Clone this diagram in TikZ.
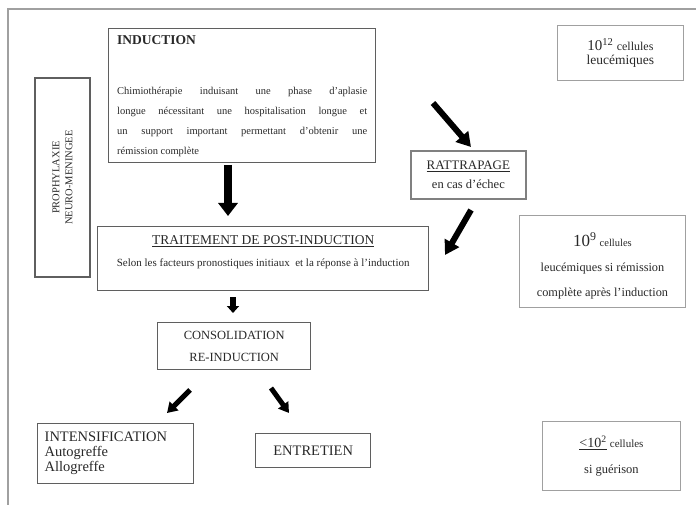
\documentclass[tikz,border=0pt]{standalone}
\usepackage{fontspec}
\setmainfont{Liberation Serif}
\usepackage{tikz}
\usetikzlibrary{arrows.meta}
\definecolor{inkgray}{RGB}{40,40,40}
\definecolor{framegray}{RGB}{95,95,95}
\definecolor{palegray}{RGB}{160,160,160}
\tikzset{
  mainbox/.style={draw=framegray, line width=1.4pt, inner sep=0pt, anchor=north west, text=inkgray, align=center},
  cellbox/.style={draw=palegray, line width=0.9pt, inner sep=0pt, anchor=north west, text=inkgray, align=center},
  fs/.style 2 args={font=\fontsize{#1}{#2}\selectfont}
}
\begin{document}
\begin{tikzpicture}[x=1pt, y=-1pt]
        \useasboundingbox (0,0) rectangle (696,505);
        % page frame
        \draw[palegray, line width=1.2pt] (8,505) -- (8,9) -- (696,9);
        % boxes
        \node[mainbox, minimum width=267pt, minimum height=134pt, text width=250pt, align=justify] (induc) at (108,28)
        {{\fontsize{13.5}{14}\selectfont\textbf{INDUCTION}\par}\vspace{30pt}
         {\fontsize{10.5}{20}\selectfont Chimiothérapie induisant une phase d'aplasie\linebreak
          longue nécessitant une hospitalisation longue et\linebreak
          un support important permettant d'obtenir une\linebreak
          rémission complète\par}};
        \node[cellbox, minimum width=126pt, minimum height=55pt, fs={13.5}{14}] (cells12) at (557,25)
        {{\fontsize{15}{14}\selectfont 10\textsuperscript{12}} {\fontsize{12}{14}\selectfont cellules}\\ leucémiques};
        \node[mainbox, anchor=center, rotate=90, minimum width=199pt, minimum height=55pt, fs={10.5}{13}] (proph) at (62.5,177.5)
        {PROPHYLAXIE\\NEURO-MENINGEE};
        \node[mainbox, line width=1.8pt, draw=palegray!80!black, minimum width=115pt, minimum height=48pt, fs={13}{19}] (rattr) at (410,150)
        {\underline{RATTRAPAGE}\\{\fontsize{12.5}{12}\selectfont en cas d'échec}};
        \node[mainbox, minimum width=331pt, minimum height=64pt, text depth=15pt, fs={13.5}{22}] (trait) at (97,226)
        {\underline{TRAITEMENT DE POST-INDUCTION}\\{\fontsize{11}{12}\selectfont Selon les facteurs pronostiques initiaux\ \ et la réponse à l'induction}};
        \node[cellbox, minimum width=166pt, minimum height=92pt, text depth=0pt, fs={12.3}{25}] (cells9) at (519,215)
        {\rule{0pt}{20pt}{\fontsize{17}{16}\selectfont 10\textsuperscript{9}} {\fontsize{10.5}{10}\selectfont cellules}\\ leucémiques si rémission\\ complète après l'induction};
        \node[mainbox, minimum width=153pt, minimum height=47pt, fs={12.5}{22}] (consol) at (157,322)
        {CONSOLIDATION\\RE-INDUCTION};
        \node[mainbox, minimum width=156pt, minimum height=60pt, text width=142pt, align=left, fs={14.5}{15}] (intens) at (37,423)
        {INTENSIFICATION\\Autogreffe\\Allogreffe};
        \node[mainbox, minimum width=115pt, minimum height=34pt, fs={14.5}{14}] (entret) at (255,433)
        {ENTRETIEN};
        \node[cellbox, minimum width=138pt, minimum height=69pt, fs={12.5}{26}] (cells2) at (542,421)
        {\underline{{\fontsize{14}{14}\selectfont <10\textsuperscript{2}}} {\fontsize{11}{10}\selectfont cellules}\\ si guérison};
        % arrows
        \foreach \n/\xa/\ya/\xb/\yb/\w/\hw/\hl in {
            a/433/103/471/147/6/16/14,
            b/228/165/228/216/8/19/13,
            c/471/210/445/255/6/16/14,
            d/233/297/233/313/6/12/7,
            e/190/390/167/413/5/12/10,
            f/271/388/289/413/5/12/10}
        { \coordinate (\n start) at (\xa,\ya);
          \coordinate (\n end) at (\xb,\yb);
          \draw[line width=\w pt, -{Triangle[width=\hw pt, length=\hl pt]}] (\n start) -- (\n end);
        }
\end{tikzpicture}
\end{document}
